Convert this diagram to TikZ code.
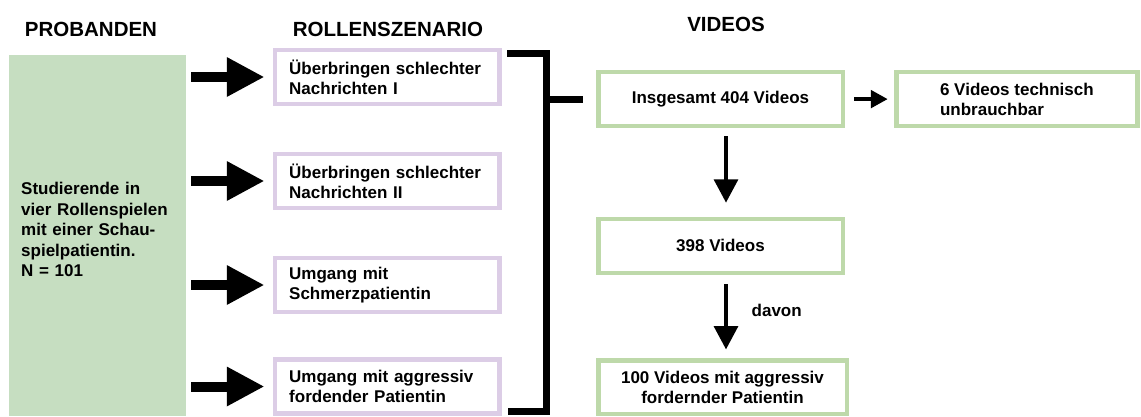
\documentclass[tikz,border=0pt]{standalone}
\usepackage{fontspec}
\setmainfont{Liberation Sans}
\usetikzlibrary{arrows.meta,calc}
\definecolor{lila}{HTML}{DCCDE6}
\definecolor{gruen}{HTML}{BED9AA}
\definecolor{gruenfill}{HTML}{C6DEC1}
\begin{document}
\begin{tikzpicture}[x=1pt,y=-1pt,
  hdr/.style={font=\fontsize{20.5}{24}\selectfont\bfseries, inner sep=0pt},
  body/.style={font=\fontsize{17}{20}\selectfont\bfseries},
  rolle/.style={body, draw=lila, line width=4.5pt, minimum width=224.5pt, minimum height=54pt, text width=196pt, inner xsep=14.25pt, inner ysep=0pt, align=left},
  vid/.style={body, draw=gruen, line width=4.5pt, minimum height=53.8pt, inner sep=0pt},
  fat/.style={line width=10pt, -{Triangle[length=37.7pt,width=37pt]}},
  thin/.style={line width=4.5pt, -{Triangle[length=23.3pt,width=23.4pt]}},
  small/.style={line width=4pt, -{Triangle[length=17pt,width=17.4pt]}},
  bracket/.style={line width=7pt, line join=miter}
]
\useasboundingbox (0,0) rectangle (1141,416);

% headers
\node[hdr] (h1) at (91,29) {PROBANDEN};
\node[hdr] (h2) at (388,29) {ROLLENSZENARIO};
\node[hdr] (h3) at (726,24) {VIDEOS};

% probanden
\node[body, font=\fontsize{17}{20.5}\selectfont\bfseries, fill=gruenfill, minimum width=176.7pt, minimum height=361.5pt, anchor=north west,
      inner xsep=12pt, inner ysep=0pt, text width=152.7pt, text depth=94pt, align=left] (prob) at (9,54.5)
  {Studierende in\\vier Rollenspielen\\mit einer Schau-\\spielpatientin.\\N = 101};

% rollenszenarien
\node[rolle] (r1) at (387.2,77) {Überbringen schlechter\\Nachrichten I};
\node[rolle] (r2) at (387.2,181) {Überbringen schlechter\\Nachrichten II};
\node[rolle] (r3) at (387.2,285) {Umgang mit\\Schmerzpatientin};
\node[rolle] (r4) at (387.2,386.5) {Umgang mit aggressiv\\fordender Patientin};

\foreach \r in {r1,r2,r3,r4}{
  \draw[fat, shorten <=5pt, shorten >=8.25pt] (prob.east |- \r.west) -- (\r.west);
}

% videos
\node[vid, minimum width=244.5pt, align=center] (v1) at (720.5,99.1) {Insgesamt 404 Videos};
\node[vid, minimum width=241.2pt, align=left] (v2) at (1016.9,99.1) {6 Videos technisch\\unbrauchbar};
\node[vid, minimum width=244.5pt, align=center] (v3) at (720.5,245.9) {398 Videos};
\node[vid, minimum width=248.5pt, minimum height=53.9pt, align=center] (v4) at (722.5,387.2) {100 Videos mit aggressiv\\fordernder Patientin};

% bracket
\coordinate (bt) at (507.3,53);
\coordinate (bc) at (546.3,53);
\coordinate (bb) at (546.3,411.7);
\coordinate (be) at (508.3,411.7);
\coordinate (bj) at (546.3,99.1);
\draw[bracket] (bt) -- (bc) -- (bb) -- (be);
\draw[bracket, shorten >=13.25pt] (bj) -- (v1.west);

% video arrows
\coordinate (ax) at (726,0);
\draw[small, shorten <=9pt, shorten >=6.3pt] (v1.east) -- (v2.west);
\draw[thin, shorten <=8pt, shorten >=14pt] (v1.south -| ax) -- (v3.north -| ax);
\draw[thin, shorten <=9pt, shorten >=8.5pt] (v3.south -| ax) -- (v4.north -| ax);
\node[body, inner sep=0pt] (davon) at (776.7,310) {davon};
\end{tikzpicture}
\end{document}
